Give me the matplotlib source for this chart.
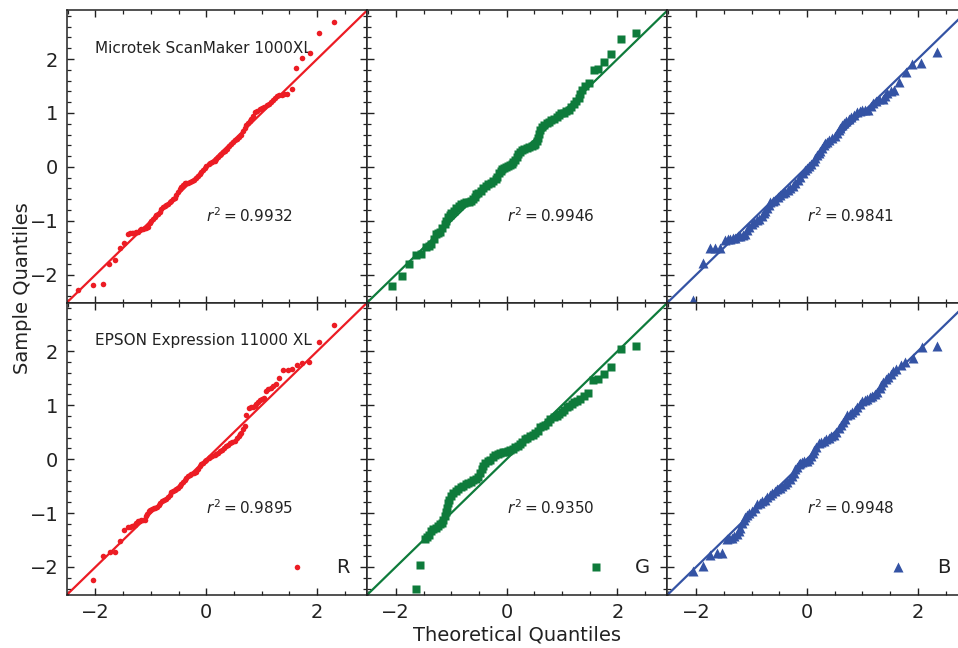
import numpy as np
import matplotlib.pyplot as plt
from matplotlib.ticker import MultipleLocator

# Q-Q plots of the R, G and B channels for two flatbed scanners

scanners = ['Microtek ScanMaker 1000XL', 'EPSON Expression 11000 XL']
channels = ['R', 'G', 'B']
r_squared = [[0.9932, 0.9946, 0.9841],
             [0.9895, 0.9350, 0.9948]]

# Microtek ScanMaker 1000XL
micro_r_x = [-2.32, -2.04, -1.87, -1.75, -1.65, -1.55, -1.48, -1.41, -1.38, -1.35,
             -1.32, -1.29, -1.26, -1.23, -1.20, -1.17, -1.14, -1.11, -1.08, -1.05,
             -1.02, -0.99, -0.96, -0.93, -0.90, -0.87, -0.84, -0.81, -0.78, -0.75,
             -0.72, -0.69, -0.66, -0.63, -0.60, -0.57, -0.54, -0.51, -0.48, -0.45,
             -0.42, -0.39, -0.36, -0.33, -0.30, -0.26, -0.22, -0.18, -0.15, -0.12,
             -0.09, -0.06, -0.03, 0.00, 0.04, 0.07, 0.11, 0.15, 0.18, 0.21,
             0.24, 0.27, 0.30, 0.33, 0.37, 0.41, 0.45, 0.48, 0.52, 0.55,
             0.59, 0.63, 0.66, 0.69, 0.72, 0.75, 0.78, 0.81, 0.84, 0.87,
             0.91, 0.96, 1.00, 1.05, 1.10, 1.14, 1.17, 1.20, 1.24, 1.27,
             1.32, 1.36, 1.41, 1.45, 1.54, 1.62, 1.73, 1.87, 2.03, 2.30]
micro_r_y = [-2.29, -2.19, -2.18, -1.81, -1.72, -1.50, -1.41, -1.24, -1.23, -1.22,
             -1.22, -1.22, -1.21, -1.20, -1.18, -1.16, -1.15, -1.14, -1.13, -1.11,
             -1.05, -1.00, -0.96, -0.93, -0.90, -0.87, -0.83, -0.79, -0.75, -0.72,
             -0.70, -0.68, -0.66, -0.63, -0.60, -0.57, -0.52, -0.46, -0.41, -0.37,
             -0.33, -0.30, -0.30, -0.29, -0.28, -0.27, -0.24, -0.21, -0.17, -0.13,
             -0.10, -0.06, -0.02, 0.02, 0.05, 0.07, 0.09, 0.11, 0.15, 0.19,
             0.22, 0.24, 0.27, 0.30, 0.34, 0.38, 0.43, 0.47, 0.50, 0.52,
             0.56, 0.60, 0.66, 0.72, 0.77, 0.81, 0.85, 0.89, 0.95, 1.01,
             1.04, 1.07, 1.09, 1.11, 1.14, 1.17, 1.20, 1.24, 1.28, 1.32,
             1.33, 1.34, 1.35, 1.36, 1.45, 1.84, 2.01, 2.12, 2.49, 2.68]

micro_g_x = [-2.06, -1.88, -1.76, -1.64, -1.55, -1.45, -1.40, -1.36, -1.31, -1.27,
             -1.24, -1.21, -1.16, -1.12, -1.09, -1.06, -1.03, -1.00, -0.95, -0.91,
             -0.86, -0.82, -0.77, -0.73, -0.68, -0.64, -0.61, -0.58, -0.55, -0.52,
             -0.47, -0.42, -0.37, -0.33, -0.28, -0.24, -0.20, -0.17, -0.14, -0.11,
             -0.08, -0.05, -0.01, 0.03, 0.06, 0.09, 0.12, 0.15, 0.18, 0.21,
             0.24, 0.27, 0.31, 0.36, 0.40, 0.45, 0.49, 0.52, 0.54, 0.56,
             0.58, 0.61, 0.64, 0.67, 0.72, 0.76, 0.80, 0.85, 0.90, 0.94,
             0.98, 1.03, 1.08, 1.12, 1.16, 1.21, 1.25, 1.30, 1.33, 1.36,
             1.42, 1.48, 1.58, 1.65, 1.76, 1.89, 2.06, 2.33]
micro_g_y = [-2.21, -2.02, -1.80, -1.64, -1.62, -1.48, -1.46, -1.43, -1.34, -1.25,
             -1.22, -1.20, -1.13, -1.06, -1.00, -0.93, -0.89, -0.86, -0.81, -0.77,
             -0.73, -0.69, -0.67, -0.66, -0.65, -0.64, -0.59, -0.55, -0.51, -0.48,
             -0.44, -0.40, -0.36, -0.32, -0.30, -0.27, -0.22, -0.18, -0.12, -0.07,
             -0.04, -0.02, 0.00, 0.01, 0.03, 0.05, 0.09, 0.13, 0.19, 0.24,
             0.28, 0.32, 0.34, 0.35, 0.37, 0.38, 0.41, 0.43, 0.48, 0.53,
             0.61, 0.69, 0.74, 0.78, 0.81, 0.83, 0.86, 0.88, 0.93, 0.97,
             0.99, 1.00, 1.03, 1.06, 1.11, 1.17, 1.22, 1.28, 1.35, 1.42,
             1.50, 1.56, 1.80, 1.82, 1.94, 2.09, 2.37, 2.48]

micro_b_x = [-2.05, -1.88, -1.75, -1.66, -1.57, -1.48, -1.43, -1.39, -1.34, -1.30,
             -1.25, -1.20, -1.15, -1.11, -1.08, -1.05, -1.00, -0.96, -0.91, -0.87,
             -0.82, -0.78, -0.75, -0.72, -0.69, -0.66, -0.61, -0.57, -0.52, -0.48,
             -0.43, -0.39, -0.34, -0.30, -0.25, -0.21, -0.16, -0.12, -0.07, -0.03,
             0.00, 0.03, 0.08, 0.12, 0.15, 0.18, 0.21, 0.24, 0.27, 0.30,
             0.33, 0.36, 0.40, 0.45, 0.50, 0.54, 0.57, 0.60, 0.63, 0.66,
             0.70, 0.75, 0.80, 0.84, 0.90, 0.96, 1.00, 1.05, 1.11, 1.15,
             1.20, 1.25, 1.30, 1.37, 1.41, 1.45, 1.51, 1.57, 1.66, 1.78,
             1.90, 2.06, 2.34]
micro_b_y = [-2.46, -1.78, -1.50, -1.50, -1.50, -1.36, -1.34, -1.33, -1.32, -1.31,
             -1.29, -1.28, -1.26, -1.24, -1.17, -1.11, -1.06, -1.02, -0.99, -0.96,
             -0.91, -0.86, -0.81, -0.77, -0.71, -0.65, -0.63, -0.61, -0.56, -0.52,
             -0.49, -0.46, -0.43, -0.40, -0.35, -0.30, -0.24, -0.18, -0.12, -0.06,
             -0.02, 0.01, 0.05, 0.10, 0.16, 0.22, 0.26, 0.30, 0.35, 0.40,
             0.44, 0.47, 0.50, 0.53, 0.58, 0.63, 0.68, 0.72, 0.77, 0.81,
             0.85, 0.89, 0.93, 0.97, 1.01, 1.04, 1.05, 1.06, 1.06, 1.12,
             1.19, 1.22, 1.25, 1.25, 1.31, 1.37, 1.40, 1.42, 1.57, 1.76,
             1.90, 1.93, 2.13]

# EPSON Expression 11000 XL
epson_r_x = [-2.04, -1.87, -1.74, -1.65, -1.55, -1.48, -1.41, -1.38, -1.35, -1.32,
             -1.29, -1.26, -1.23, -1.20, -1.17, -1.14, -1.11, -1.09, -1.07, -1.04,
             -1.01, -0.98, -0.95, -0.92, -0.89, -0.86, -0.83, -0.80, -0.77, -0.73,
             -0.69, -0.66, -0.63, -0.60, -0.57, -0.54, -0.51, -0.48, -0.45, -0.42,
             -0.39, -0.36, -0.33, -0.30, -0.27, -0.23, -0.19, -0.15, -0.12, -0.09,
             -0.06, -0.03, 0.00, 0.04, 0.07, 0.11, 0.15, 0.18, 0.21, 0.25,
             0.28, 0.32, 0.36, 0.40, 0.43, 0.47, 0.51, 0.55, 0.59, 0.61,
             0.63, 0.66, 0.69, 0.72, 0.77, 0.80, 0.84, 0.87, 0.90, 0.93,
             0.96, 1.00, 1.05, 1.08, 1.12, 1.17, 1.21, 1.26, 1.32, 1.38,
             1.47, 1.55, 1.63, 1.73, 1.86, 2.03, 2.30]
epson_r_y = [-2.24, -1.79, -1.73, -1.72, -1.52, -1.32, -1.25, -1.25, -1.24, -1.24,
             -1.23, -1.19, -1.15, -1.14, -1.13, -1.12, -1.12, -1.06, -1.01, -0.97,
             -0.94, -0.92, -0.91, -0.90, -0.89, -0.85, -0.81, -0.78, -0.76, -0.74,
             -0.71, -0.66, -0.61, -0.60, -0.58, -0.55, -0.53, -0.50, -0.47, -0.43,
             -0.39, -0.35, -0.32, -0.30, -0.28, -0.26, -0.24, -0.18, -0.12, -0.09,
             -0.07, -0.04, -0.01, 0.02, 0.04, 0.06, 0.08, 0.10, 0.12, 0.15,
             0.17, 0.21, 0.24, 0.27, 0.29, 0.32, 0.34, 0.39, 0.43, 0.46,
             0.48, 0.55, 0.61, 0.81, 0.95, 0.96, 0.96, 0.99, 1.02, 1.06,
             1.09, 1.11, 1.13, 1.27, 1.30, 1.32, 1.36, 1.40, 1.50, 1.66,
             1.66, 1.68, 1.75, 1.79, 1.81, 2.17, 2.48]

epson_g_x = [-1.64, -1.56, -1.48, -1.44, -1.41, -1.37, -1.33, -1.28, -1.24, -1.20,
             -1.16, -1.14, -1.12, -1.10, -1.08, -1.06, -1.04, -1.00, -0.97, -0.92,
             -0.88, -0.83, -0.79, -0.74, -0.70, -0.65, -0.61, -0.56, -0.52, -0.48,
             -0.45, -0.42, -0.39, -0.34, -0.30, -0.25, -0.21, -0.16, -0.12, -0.07,
             -0.03, 0.02, 0.06, 0.11, 0.15, 0.20, 0.24, 0.28, 0.33, 0.37,
             0.42, 0.47, 0.52, 0.56, 0.61, 0.65, 0.70, 0.74, 0.79, 0.85,
             0.91, 0.95, 1.00, 1.04, 1.09, 1.13, 1.18, 1.22, 1.27, 1.33,
             1.40, 1.47, 1.55, 1.64, 1.75, 1.89, 2.06, 2.33]
epson_g_y = [-2.41, -1.96, -1.49, -1.44, -1.40, -1.34, -1.29, -1.27, -1.24, -1.21,
             -1.18, -1.12, -1.06, -0.98, -0.90, -0.82, -0.75, -0.69, -0.63, -0.59,
             -0.55, -0.52, -0.50, -0.47, -0.45, -0.42, -0.39, -0.36, -0.34, -0.26,
             -0.19, -0.13, -0.08, -0.04, -0.01, 0.04, 0.08, 0.10, 0.11, 0.13,
             0.14, 0.15, 0.17, 0.19, 0.22, 0.25, 0.28, 0.32, 0.37, 0.40,
             0.43, 0.45, 0.48, 0.53, 0.59, 0.61, 0.63, 0.69, 0.75, 0.78,
             0.80, 0.83, 0.87, 0.91, 0.96, 0.99, 1.02, 1.05, 1.07, 1.12,
             1.17, 1.23, 1.46, 1.49, 1.58, 1.70, 2.04, 2.10]

epson_b_x = [-2.05, -1.88, -1.75, -1.63, -1.54, -1.45, -1.40, -1.36, -1.31, -1.27,
             -1.23, -1.20, -1.17, -1.14, -1.11, -1.08, -1.04, -0.99, -0.94, -0.90,
             -0.85, -0.81, -0.76, -0.72, -0.67, -0.63, -0.58, -0.54, -0.49, -0.45,
             -0.40, -0.36, -0.31, -0.27, -0.24, -0.21, -0.18, -0.15, -0.12, -0.09,
             -0.05, 0.00, 0.04, 0.07, 0.10, 0.13, 0.17, 0.21, 0.25, 0.30,
             0.35, 0.39, 0.44, 0.48, 0.53, 0.57, 0.61, 0.65, 0.69, 0.72,
             0.77, 0.81, 0.86, 0.90, 0.95, 0.99, 1.04, 1.08, 1.13, 1.17,
             1.22, 1.27, 1.31, 1.34, 1.38, 1.42, 1.47, 1.51, 1.56, 1.60,
             1.69, 1.77, 1.92, 2.08, 2.34]
epson_b_y = [-2.08, -1.98, -1.77, -1.74, -1.74, -1.49, -1.47, -1.46, -1.43, -1.39,
             -1.33, -1.27, -1.19, -1.12, -1.08, -1.04, -1.00, -0.96, -0.90, -0.84,
             -0.81, -0.78, -0.75, -0.71, -0.67, -0.62, -0.59, -0.56, -0.53, -0.50,
             -0.46, -0.42, -0.37, -0.31, -0.25, -0.19, -0.14, -0.09, -0.07, -0.06,
             -0.04, -0.03, 0.01, 0.06, 0.11, 0.16, 0.23, 0.29, 0.32, 0.34,
             0.37, 0.39, 0.42, 0.45, 0.51, 0.57, 0.63, 0.68, 0.75, 0.81,
             0.84, 0.87, 0.92, 0.96, 1.02, 1.07, 1.10, 1.12, 1.15, 1.17,
             1.20, 1.24, 1.31, 1.37, 1.43, 1.48, 1.53, 1.58, 1.63, 1.68,
             1.75, 1.81, 1.88, 2.08, 2.10]

data = [[(micro_r_x, micro_r_y), (micro_g_x, micro_g_y), (micro_b_x, micro_b_y)],
        [(epson_r_x, epson_r_y), (epson_g_x, epson_g_y), (epson_b_x, epson_b_y)]]

colors = ['#ec1c24', '#0e7b3b', '#3453a4']
markers = ['o', 's', '^']
msizes = [4.0, 6.2, 6.8]
lims = (-2.52, 2.9)
ink = '#222222'

fig = plt.figure(figsize=(9.58, 6.48), dpi=100)

left0, width = 0.0696, 0.3135
bottoms = [0.5328, 0.0818]
height = 0.451

for row in range(2):
    for col in range(3):
        ax = fig.add_axes([left0 + col * width, bottoms[row], width, height])
        x, y = data[row][col]
        ax.axline((0, 0), (1, 1), color=colors[col], lw=1.6, zorder=2)
        ax.plot(x, y, ls='none', marker=markers[col], ms=msizes[col],
                color=colors[col], mec='none', label=channels[col], zorder=3)
        ax.set_xlim(lims)
        ax.set_ylim(lims)

        ax.xaxis.set_major_locator(MultipleLocator(2))
        ax.xaxis.set_minor_locator(MultipleLocator(0.5))
        ax.yaxis.set_major_locator(MultipleLocator(1))
        ax.yaxis.set_minor_locator(MultipleLocator(0.2))
        ax.tick_params(which='both', direction='in', top=True, right=True,
                       color=ink, labelcolor=ink, labelsize=14)
        ax.tick_params(which='major', length=5, width=1.0, pad=6)
        ax.tick_params(which='minor', length=3, width=0.9)
        ax.tick_params(labelleft=(col == 0), labelbottom=(row == 1))
        for sp in ax.spines.values():
            sp.set_color(ink)
            sp.set_linewidth(1.1)

        ax.text(0.0, -0.9, r'$r^2 = %.4f$' % r_squared[row][col], fontsize=11,
                color=ink, ha='left', va='center', zorder=1)
        if col == 0:
            ax.text(-2.0, 2.2, scanners[row], fontsize=11, color=ink,
                    ha='left', va='center', zorder=1)
        if row == 1:
            ax.legend(loc='lower right', frameon=False, fontsize=14,
                      numpoints=1, handletextpad=1.0, labelcolor=ink)

fig.text(0.540, 0.020, 'Theoretical Quantiles', fontsize=14, color=ink,
         ha='center', va='center')
fig.text(0.024, 0.556, 'Sample Quantiles', fontsize=14, color=ink,
         ha='center', va='center', rotation=90)

fig.savefig('out.png', dpi=100)
